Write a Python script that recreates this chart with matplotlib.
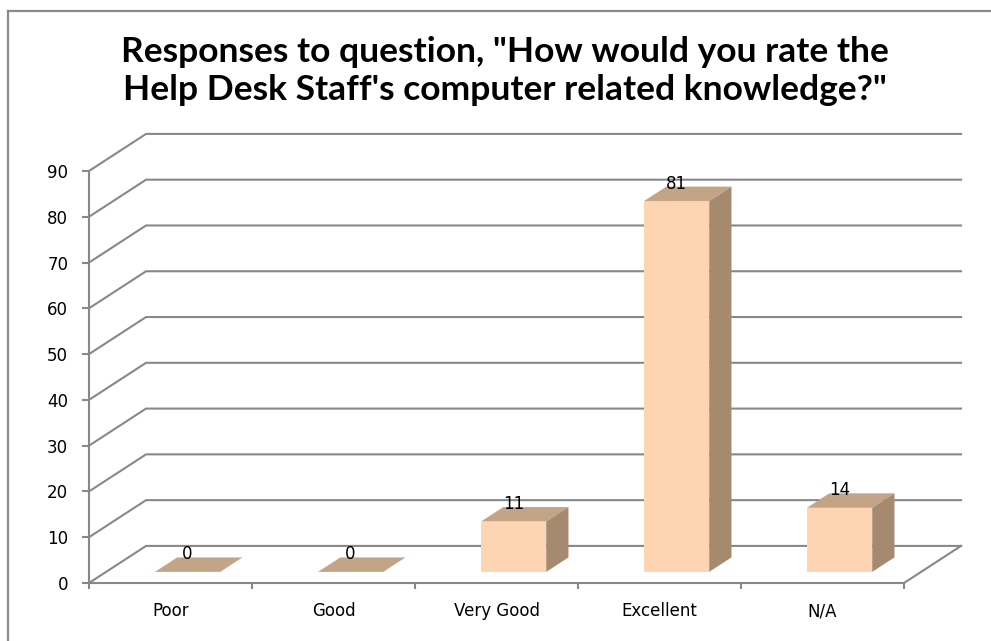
import matplotlib.pyplot as plt
from matplotlib.patches import Polygon
from matplotlib.lines import Line2D

categories = ["Poor", "Good", "Very Good", "Excellent", "N/A"]
responses = [0, 0, 11, 81, 14]
y_ticks = [0, 10, 20, 30, 40, 50, 60, 70, 80, 90]
title = ('Responses to question, "How would you rate the\n'
         'Help Desk Staff\'s computer related knowledge?"')

# oblique "3d" look: floor depth in data units
DEPTH_X = 0.35
DEPTH_Y = 8.1
BAR_W = 0.4
BAR_FRONT = 0.3
BAR_BACK = 0.69

FRONT = "#FDD5B2"
TOP = "#C3A487"
SIDE = "#A58A70"
GRID = "#888888"


def Main():
    fig = plt.figure(figsize=(9.91, 6.41), dpi=100)
    ax = fig.add_axes([89 / 991, 58 / 641, 815 / 991, 412 / 641])
    n = len(categories)
    ax.set_xlim(0, n)
    ax.set_ylim(0, 90)

    # outer frame (left + top only, rest is cropped)
    fig.add_artist(Line2D([8 / 991, 8 / 991], [0, 1 - 11 / 641], color="#8a8a8a", lw=1.6))
    fig.add_artist(Line2D([8 / 991, 1], [1 - 11 / 641, 1 - 11 / 641], color="#8a8a8a", lw=1.6))

    # back wall + side wall gridlines
    for v in y_ticks:
        ax.plot([0, DEPTH_X, n + DEPTH_X], [v, v + DEPTH_Y, v + DEPTH_Y],
                color=GRID, lw=1.5, clip_on=False, zorder=1)
    ax.plot([n, n + DEPTH_X], [0, DEPTH_Y], color=GRID, lw=1.5, clip_on=False, zorder=1)

    ddx = (BAR_BACK - BAR_FRONT) * DEPTH_X
    ddy = (BAR_BACK - BAR_FRONT) * DEPTH_Y
    b0 = BAR_FRONT * DEPTH_Y
    for i, v in enumerate(responses):
        xc = i + 0.5 + BAR_FRONT * DEPTH_X
        x0 = xc - BAR_W / 2
        x1 = xc + BAR_W / 2
        ax.bar(xc, v, width=BAR_W, bottom=b0, color=FRONT, zorder=3, clip_on=False)
        top = Polygon([(x0, b0 + v), (x1, b0 + v), (x1 + ddx, b0 + v + ddy), (x0 + ddx, b0 + v + ddy)],
                      closed=True, facecolor=TOP, edgecolor="none", zorder=3, clip_on=False)
        side = Polygon([(x1, b0), (x1 + ddx, b0 + ddy), (x1 + ddx, b0 + v + ddy), (x1, b0 + v)],
                       closed=True, facecolor=SIDE, edgecolor="none", zorder=3, clip_on=False)
        ax.add_patch(top)
        ax.add_patch(side)
        ax.annotate(str(v), xy=(xc, v + BAR_BACK * DEPTH_Y), xytext=(0, -1.5),
                    textcoords="offset points", ha="center", va="baseline",
                    fontsize=12, color="black", zorder=4)

    for s in ["top", "right"]:
        ax.spines[s].set_visible(False)
    for s in ["left", "bottom"]:
        ax.spines[s].set_color(GRID)
        ax.spines[s].set_linewidth(1.5)

    ax.set_yticks(y_ticks)
    ax.tick_params(axis="y", length=5, width=1.5, color=GRID, pad=10, labelsize=12)
    ax.set_xticks(range(n + 1))
    ax.set_xticklabels([""] * (n + 1))
    ax.tick_params(axis="x", which="major", length=4.5, width=1.5, color=GRID)
    ax.set_xticks([i + 0.5 for i in range(n)], minor=True)
    ax.set_xticklabels(categories, minor=True)
    ax.tick_params(axis="x", which="minor", length=0, pad=14, labelsize=12)

    fig.text(0.51, 1 - 71 / 641, title, ha="center", va="center", fontsize=25.5,
             fontweight="bold", family="Lato", linespacing=1.25)

    plt.savefig("out.png", dpi=100)


if __name__ == '__main__':
    Main()
